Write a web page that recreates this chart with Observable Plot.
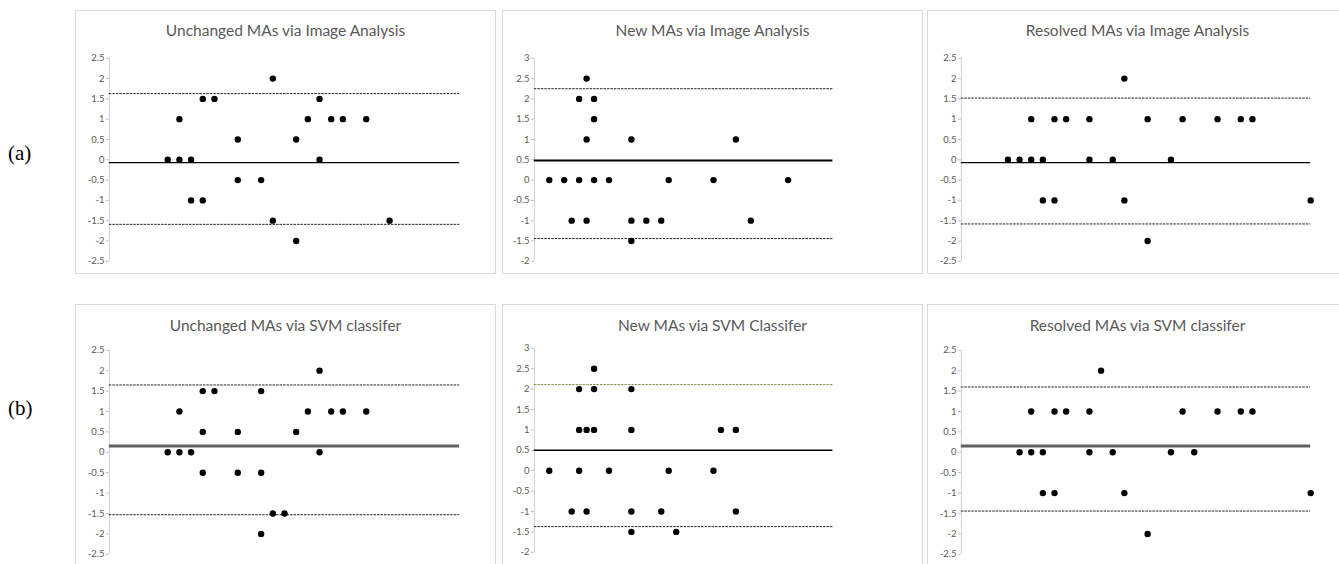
<!DOCTYPE html>
<html>
<head>
<meta charset="utf-8">
<script src="https://cdn.jsdelivr.net/npm/d3@7"></script>
<script src="https://cdn.jsdelivr.net/npm/@observablehq/plot@0.6"></script>
<style>
  html, body { margin: 0; padding: 0; background: #fff; overflow: hidden; width: 1339px; height: 564px; }
  .frame { position: absolute; border: 1px solid #d9d9d9; box-sizing: border-box; background: #fff; }
  .frame svg { position: absolute; left: 0; top: 0; }
  .title { position: absolute; left: 0; right: 0; top: 10px; text-align: center; font-family: Lato, "Open Sans", sans-serif; font-size: 15.5px; color: #595959; line-height: 18px; }
  .rowlabel { position: absolute; font-family: "Liberation Serif", "DejaVu Serif", serif; font-size: 21px; color: #000; }
</style>
</head>
<body>
<div id="root"></div>
<script>
// ---- Data ----
const titles = [
  "Unchanged MAs via Image Analysis",
  "New MAs via Image Analysis",
  "Resolved MAs via Image Analysis",
  "Unchanged MAs via SVM classifer",
  "New MAs via SVM Classifer",
  "Resolved MAs via SVM classifer"
];
const rowLabels = ["(a)", "(b)"];

const ticksA = [-2.5, -2, -1.5, -1, -0.5, 0, 0.5, 1, 1.5, 2, 2.5];
const ticksB = [-2, -1.5, -1, -0.5, 0, 0.5, 1, 1.5, 2, 2.5, 3];

const unchangedIA = [
  [5,0],[6,1],[6,0],[7,0],[7,-1],[8,1.5],[8,-1],[9,1.5],[11,0.5],[11,-0.5],
  [13,-0.5],[14,2],[14,-1.5],[16,0.5],[16,-2],[17,1],[18,1.5],[18,0],[19,1],[20,1],[22,1],[24,-1.5]
];
const newIA = [
  [2,0],[4,0],[5,-1],[6,2],[6,0],[7,2.5],[7,1],[7,-1],[8,2],[8,1.5],[8,0],[10,0],
  [13,1],[13,-1],[13,-1.5],[15,-1],[17,-1],[18,0],[24,0],[27,1],[29,-1],[34,0]
];
const resolvedIA = [
  [4,0],[5,0],[6,1],[6,0],[7,0],[7,-1],[8,1],[8,-1],[9,1],[11,1],[11,0],[13,0],
  [14,2],[14,-1],[16,1],[16,-2],[18,0],[19,1],[22,1],[24,1],[25,1],[30,-1]
];
const unchangedSVM = [
  [5,0],[6,1],[6,0],[7,0],[8,1.5],[8,0.5],[8,-0.5],[9,1.5],[11,0.5],[11,-0.5],
  [13,1.5],[13,-0.5],[13,-2],[14,-1.5],[15,-1.5],[16,0.5],[17,1],[18,2],[18,0],[19,1],[20,1],[22,1]
];
const newSVM = [
  [2,0],[5,-1],[6,2],[6,1],[6,0],[7,1],[7,-1],[8,2.5],[8,2],[8,1],[10,0],
  [13,2],[13,1],[13,-1],[13,-1.5],[17,-1],[18,0],[19,-1.5],[24,0],[25,1],[27,1],[27,-1]
];
const resolvedSVM = [
  [5,0],[6,1],[6,0],[7,0],[7,-1],[8,1],[8,-1],[9,1],[11,1],[11,0],[12,2],[13,0],
  [14,-1],[16,-2],[18,0],[19,1],[20,0],[22,1],[24,1],[25,1],[30,-1]
];

const meanLines  = [-0.07, 0.48, -0.07, 0.155, 0.50, 0.155];
const upperLines = [1.63, 2.25, 1.52, 1.65, 2.11, 1.60];
const lowerLines = [-1.59, -1.44, -1.58, -1.53, -1.37, -1.44];
const xMax = [30, 40, 30, 30, 40, 30];

// ---- Layout ----
const panelData = [unchangedIA, newIA, resolvedIA, unchangedSVM, newSVM, resolvedSVM];
const yTicks = [ticksA, ticksB, ticksA, ticksA, ticksB, ticksA];
const layout = [
  {left: 75,  top: 10,  mL: 33, mT: 47, mB: 13},
  {left: 502, top: 10,  mL: 31, mT: 47, mB: 13},
  {left: 927, top: 10,  mL: 33, mT: 47, mB: 13},
  {left: 75,  top: 304, mL: 33, mT: 45, mB: 14},
  {left: 502, top: 304, mL: 31, mT: 43, mB: 16},
  {left: 927, top: 304, mL: 33, mT: 45, mB: 14}
];
const plotW = [352, 300, 351, 352, 300, 351];
const meanStyle = [
  {stroke: "#000", w: 1.5}, {stroke: "#000", w: 2}, {stroke: "#000", w: 1.5},
  {stroke: "#606060", w: 3}, {stroke: "#000", w: 1.5}, {stroke: "#606060", w: 3}
];
const upperColor = ["#222", "#222", "#222", "#222", "#7f8f50", "#222"];

const root = document.getElementById("root");
const W = 421, H = 264;

panelData.forEach((pts, i) => {
  const L = layout[i];
  const frame = document.createElement("div");
  frame.className = "frame";
  frame.style.left = L.left + "px";
  frame.style.top = L.top + "px";
  frame.style.width = W + "px";
  frame.style.height = H + "px";

  const t = yTicks[i];
  const plot = Plot.plot({
    width: W,
    height: H,
    marginLeft: L.mL,
    marginRight: W - L.mL - plotW[i],
    marginTop: L.mT,
    marginBottom: L.mB,
    style: {fontFamily: "Lato, 'Open Sans', sans-serif", fontSize: "9.5px", background: "transparent", overflow: "visible"},
    x: {domain: [0, xMax[i]], axis: null},
    y: {domain: [t[0], t[t.length - 1]], axis: null},
    marks: [
      Plot.ruleX([0], {stroke: "#d0d0d0", strokeWidth: 1}),
      Plot.axisY({ticks: t, tickSize: 3, tickPadding: 2, tickFormat: d => String(d), stroke: "#bfbfbf", fill: "#595959", label: null}),
      Plot.ruleY([upperLines[i]], {x1: 0, x2: xMax[i], stroke: upperColor[i], strokeWidth: 1, strokeDasharray: "2.5,1"}),
      Plot.ruleY([lowerLines[i]], {x1: 0, x2: xMax[i], stroke: "#222", strokeWidth: 1, strokeDasharray: "2.5,1"}),
      Plot.ruleY([meanLines[i]], {x1: 0, x2: xMax[i], stroke: meanStyle[i].stroke, strokeWidth: meanStyle[i].w}),
      Plot.dot(pts, {x: d => d[0], y: d => d[1], r: 3.2, fill: "#000", stroke: "none"})
    ]
  });
  frame.appendChild(plot);

  const title = document.createElement("div");
  title.className = "title";
  title.style.top = (i < 3 ? 10 : 11) + "px";
  title.textContent = titles[i];
  frame.appendChild(title);

  root.appendChild(frame);
});

rowLabels.forEach((s, k) => {
  const d = document.createElement("div");
  d.className = "rowlabel";
  d.style.left = "8px";
  d.style.top = (k === 0 ? 141 : 396) + "px";
  d.textContent = s;
  root.appendChild(d);
});
</script>
</body>
</html>
